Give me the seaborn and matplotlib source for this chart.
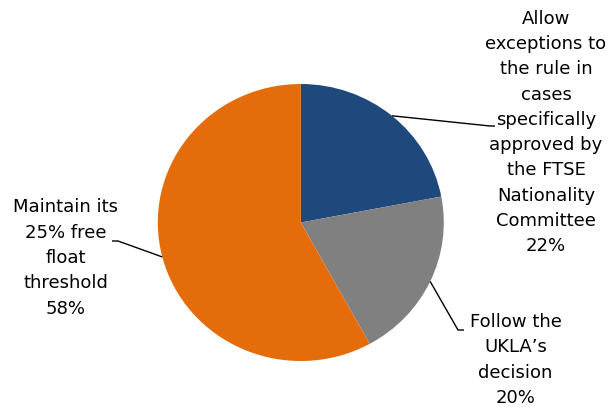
import numpy as np
import matplotlib
matplotlib.use("Agg")
import matplotlib.pyplot as plt
import seaborn as sns

# ---- data ----
categories = [
    "Allow\nexceptions to\nthe rule in\ncases\nspecifically\napproved by\nthe FTSE\nNationality\nCommittee",
    "Follow the\nUKLA\u2019s\ndecision",
    "Maintain its\n25% free\nfloat\nthreshold",
]
values = [22, 20, 58]
colors = ["#1F497D", "#808080", "#E46C0A"]

sns.set_style("white")
plt.rcParams["font.family"] = ["DejaVu Sans"]

W, H = 610, 407
fig = plt.figure(figsize=(W / 100, H / 100), dpi=100)
ax = fig.add_axes([0, 0, 1, 1])

# pie geometry in pixels (slightly elliptical as in the reference)
cx, cy, rx, ry = 300.8, 222.5, 143.0, 138.5


def px(x, y):
    return ((x - cx) / rx, (cy - y) / ry)


wedges, _ = ax.pie(values, colors=sns.color_palette(colors), startangle=90,
                   counterclock=False, radius=1.0, center=(0, 0),
                   wedgeprops=dict(linewidth=0))
ax.set_aspect("auto")
ax.set_xlim(-cx / rx, (W - cx) / rx)
ax.set_ylim(-(H - cy) / ry, cy / ry)
ax.axis("off")

# label layout (pixel positions) : text centre, elbow, end of short horizontal
layout = [
    dict(text=(546, 132.5), elbow=(490, 126), end=(495, 126)),
    dict(text=(515.5, 360), elbow=(458, 330), end=(464, 330)),
    dict(text=(65.7, 258), elbow=(118, 241), end=(112, 241)),
]

total = sum(values)
start = 90.0
for cat, val, lay in zip(categories, values, layout):
    span = 360.0 * val / total
    mid = np.deg2rad(start - span / 2)
    start -= span
    anchor = (np.cos(mid), np.sin(mid))
    e = px(*lay["elbow"])
    f = px(*lay["end"])
    ax.plot([anchor[0], e[0], f[0]], [anchor[1], e[1], f[1]],
            color="black", lw=1.0, solid_capstyle="butt")
    tx, ty = px(*lay["text"])
    ax.text(tx, ty, f"{cat}\n{val}%", ha="center", va="center",
            multialignment="center", fontsize=13, linespacing=1.52,
            color="black")

fig.savefig("out.png", dpi=100)
